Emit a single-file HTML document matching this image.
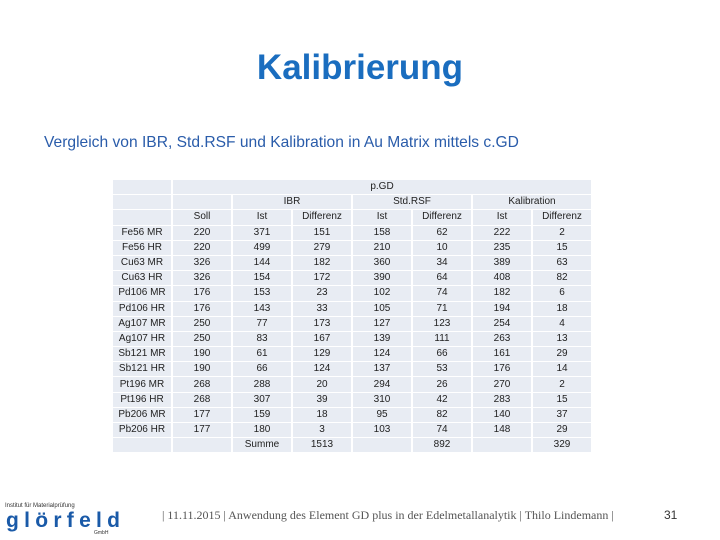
<!DOCTYPE html>
<html><head><meta charset="utf-8"><style>
body{margin:0;width:720px;height:540px;background:#fff;position:relative;overflow:hidden;font-family:"Liberation Sans",sans-serif}
#title{position:absolute;top:48px;left:0;width:720px;text-align:center;font-size:35px;font-weight:bold;color:#1a6dbf}
#sub{position:absolute;top:134px;left:44px;font-size:15.6px;color:#2a5caa;white-space:nowrap}
#tbl{position:absolute;left:111px;top:179px;border-collapse:separate;border-spacing:2px 1px;font-size:10px;color:#222}
#tbl td{background:#e8ecf3;height:14.2px;padding:0;text-align:center;width:58px;line-height:14px}
#foot{position:absolute;top:508px;left:162px;font-family:"Liberation Serif",serif;font-size:12px;color:#555;white-space:nowrap}
#pg{position:absolute;top:508px;left:664px;font-size:12px;color:#333}
#logo{position:absolute;left:4px;top:500px;width:118px;height:36px}
</style></head><body>
<div id="title">Kalibrierung</div>
<div id="sub">Vergleich von IBR, Std.RSF und Kalibration in Au Matrix mittels c.GD</div>
<table id="tbl"><tbody id="tb"></tbody></table>
<svg id="logo" viewBox="0 0 118 36">
<text x="1" y="7" font-size="6" fill="#333" font-family="Liberation Sans">Institut für Materialprüfung</text>
<text x="2" y="27" font-size="21" font-weight="bold" fill="#1a5aa8" font-family="Liberation Sans" textLength="114">glörfeld</text>
<text x="90" y="34" font-size="5" fill="#333" font-family="Liberation Sans">GmbH</text>
</svg>
<div id="foot">| 11.11.2015 | Anwendung des Element GD plus in der Edelmetallanalytik | Thilo Lindemann |</div>
<div id="pg">31</div>
<script>
const samples=["Fe56 MR","Fe56 HR","Cu63 MR","Cu63 HR","Pd106 MR","Pd106 HR","Ag107 MR","Ag107 HR","Sb121 MR","Sb121 HR","Pt196 MR","Pt196 HR","Pb206 MR","Pb206 HR"];
const soll=[220,220,326,326,176,176,250,250,190,190,268,268,177,177];
const ibrIst=[371,499,144,154,153,143,77,83,61,66,288,307,159,180];
const ibrDiff=[151,279,182,172,23,33,173,167,129,124,20,39,18,3];
const rsfIst=[158,210,360,390,102,105,127,139,124,137,294,310,95,103];
const rsfDiff=[62,10,34,64,74,71,123,111,66,53,26,42,82,74];
const kalIst=[222,235,389,408,182,194,254,263,161,176,270,283,140,148];
const kalDiff=[2,15,63,82,6,18,4,13,29,14,2,15,37,29];
const tb=document.getElementById('tb');
function row(cells,name){const tr=document.createElement('tr');


cells.forEach(c=>{const td=document.createElement('td');if(Array.isArray(c)){td.textContent=c[0];td.colSpan=c[1];}else td.textContent=c;


tr.appendChild(td);});tb.appendChild(tr);}
row(["",["p.GD",7]],'header-method');
row(["","",["IBR",2],["Std.RSF",2],["Kalibration",2]],'header-groups');
row(["","Soll","Ist","Differenz","Ist","Differenz","Ist","Differenz"],'header-columns');
samples.forEach((s,i)=>row([s,soll[i],ibrIst[i],ibrDiff[i],rsfIst[i],rsfDiff[i],kalIst[i],kalDiff[i]],'row-'+s.toLowerCase().replace(' ','-')));
const sum=a=>a.reduce((x,y)=>x+y,0);
row(["","","Summe",sum(ibrDiff),"",sum(rsfDiff),"",sum(kalDiff)],'sum-row');
</script>
</body></html>
